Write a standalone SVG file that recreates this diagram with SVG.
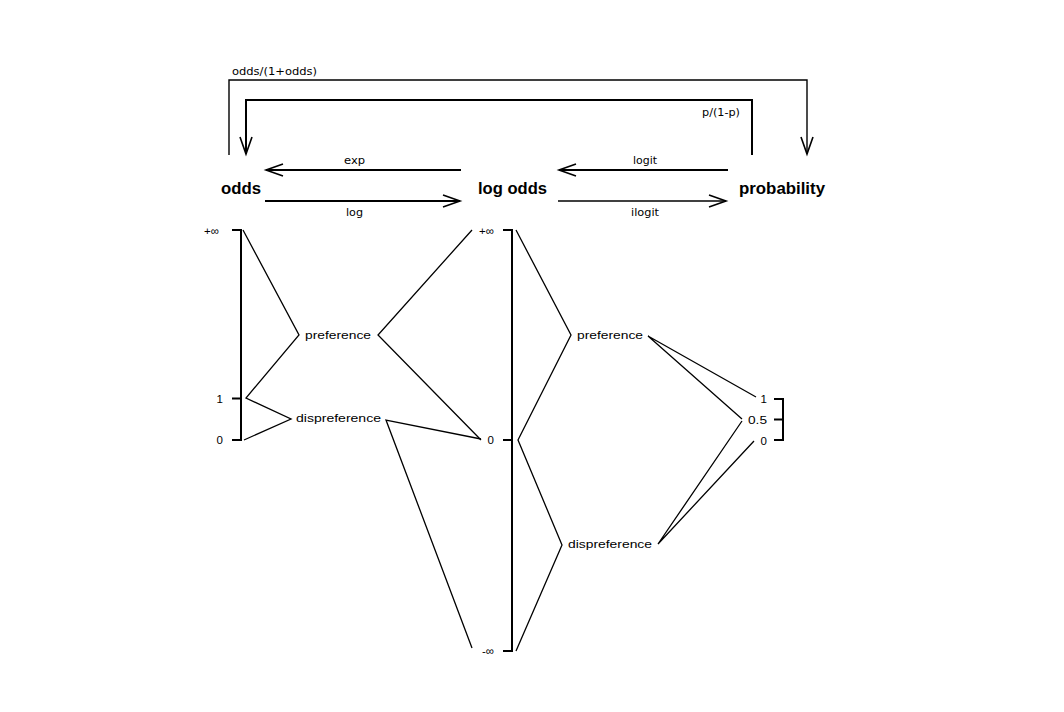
<svg xmlns="http://www.w3.org/2000/svg" width="1064" height="712" viewBox="0 0 1064 712">
<style>
.bg{fill:#ffffff}
.title{font-family:"Liberation Sans",Arial,sans-serif;font-weight:bold;font-size:16px;fill:#000}
.fn{font-family:"DejaVu Sans","Liberation Sans",sans-serif;font-size:10px;fill:#000}
.lab{font-family:"Liberation Sans",Arial,sans-serif;font-size:11.5px;fill:#000}
.axis{fill:none;stroke:#000;stroke-width:2}
.zz{fill:none;stroke:#000;stroke-width:1.3;stroke-linejoin:miter}
.conn{fill:none;stroke:#000;stroke-width:2}
.thin{fill:none;stroke:#000;stroke-width:1.4}
</style>
<defs>
<marker id="v" markerUnits="userSpaceOnUse" markerWidth="30" markerHeight="30" refX="20" refY="10" orient="auto" overflow="visible">
<path d="M3,4 L20,10 L3,16" fill="none" stroke="#000" stroke-width="1.6"/>
</marker>
</defs>
<rect class="bg" x="0" y="0" width="1064" height="712"/>

<g id="connectors">
<path class="thin" d="M229,155 V80 H807 V154" marker-end="url(#v)"/>
<text class="fn" x="232" y="75" textLength="85" lengthAdjust="spacingAndGlyphs">odds/(1+odds)</text>
<path class="conn" d="M752,155 V100 H246 V154" marker-end="url(#v)"/>
<text class="fn" x="702" y="116" textLength="38" lengthAdjust="spacingAndGlyphs">p/(1-p)</text>
<path class="conn" d="M461,170 H266" marker-end="url(#v)"/>
<text class="fn" x="344" y="164" textLength="21" lengthAdjust="spacingAndGlyphs">exp</text>
<path class="conn" d="M265,201 H460" marker-end="url(#v)"/>
<text class="fn" x="346" y="216" textLength="17" lengthAdjust="spacingAndGlyphs">log</text>
<path class="conn" d="M728,170 H559" marker-end="url(#v)"/>
<text class="fn" x="633" y="164" textLength="24" lengthAdjust="spacingAndGlyphs">logit</text>
<path class="thin" d="M558,201 H726" marker-end="url(#v)"/>
<text class="fn" x="631" y="216" textLength="28" lengthAdjust="spacingAndGlyphs">ilogit</text>

<polyline class="zz" points="243,230 299,335 246,398 291,419 244,440"/>
<polyline class="zz" points="472,230 378,335 481,440"/>
<polyline class="zz" points="481,439 386,420 472,648"/>
<polyline class="zz" points="516,230 571,335 518,440 562,545 516,651"/>
<polyline class="zz" points="756,397 648,336 742,419"/>
<polyline class="zz" points="742,421 658,544 754,441"/>
</g>

<g id="node-odds">
<text class="title" x="221" y="194" textLength="40" lengthAdjust="spacingAndGlyphs">odds</text>
<path class="axis" d="M232,230 H241 V440 H232 M232,398.5 H241"/>
<text class="lab" x="219" y="235" text-anchor="end">+∞</text>
<text class="lab" x="223" y="402.5" text-anchor="end">1</text>
<text class="lab" x="223" y="444" text-anchor="end">0</text>
</g>

<g id="node-logodds">
<text class="title" x="478" y="194" textLength="69" lengthAdjust="spacingAndGlyphs">log odds</text>
<path class="axis" d="M503,230 H512 V651 H503 M503,440 H512"/>
<text class="lab" x="494" y="235" text-anchor="end">+∞</text>
<text class="lab" x="494" y="444" text-anchor="end">0</text>
<text class="lab" x="494" y="655" text-anchor="end">-∞</text>
</g>

<g id="node-probability">
<text class="title" x="739" y="194" textLength="86" lengthAdjust="spacingAndGlyphs">probability</text>
<path class="axis" d="M774,399 H783 V440 H774 M774,419.5 H783"/>
<text class="lab" x="767" y="403" text-anchor="end">1</text>
<text class="lab" x="767" y="424" text-anchor="end" textLength="19" lengthAdjust="spacingAndGlyphs">0.5</text>
<text class="lab" x="767" y="445" text-anchor="end">0</text>
</g>

<g id="node-odds-preference">
<text class="lab" x="305" y="338.5" textLength="66" lengthAdjust="spacingAndGlyphs">preference</text>
</g>
<g id="node-odds-dispreference">
<text class="lab" x="296" y="422" textLength="85" lengthAdjust="spacingAndGlyphs">dispreference</text>
</g>
<g id="node-logodds-preference">
<text class="lab" x="577" y="338.5" textLength="66" lengthAdjust="spacingAndGlyphs">preference</text>
</g>
<g id="node-logodds-dispreference">
<text class="lab" x="568" y="548" textLength="84" lengthAdjust="spacingAndGlyphs">dispreference</text>
</g>
</svg>
